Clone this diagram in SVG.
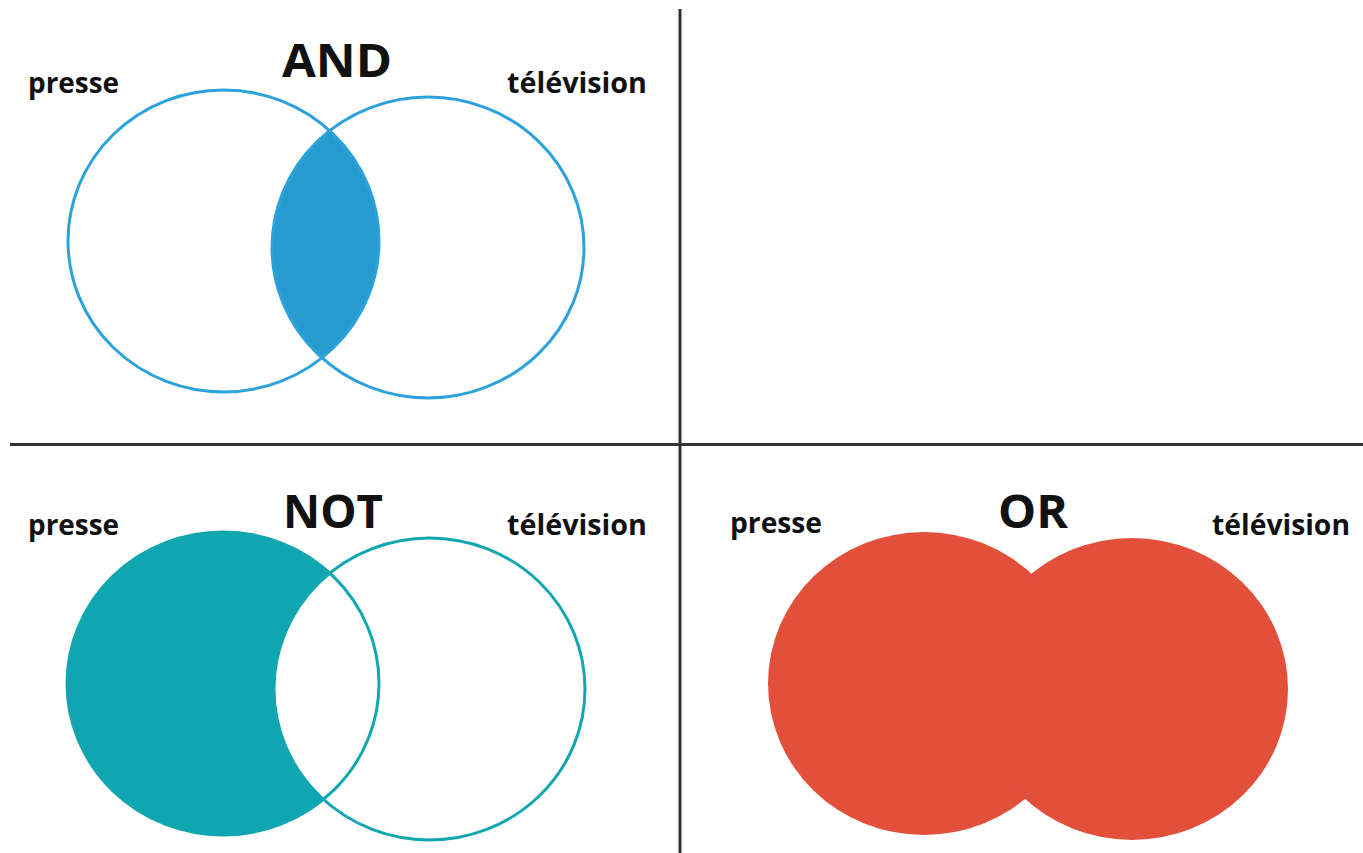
<svg xmlns="http://www.w3.org/2000/svg" width="1363" height="853" viewBox="0 0 1363 853">
<style>
.lbl{font-family:"Open Sans","Liberation Sans",sans-serif;font-weight:700;font-size:28px;fill:#111}
.ttl{font-family:"Open Sans","Liberation Sans",sans-serif;font-weight:700;font-size:46px;fill:#111}
.div{stroke:#333;stroke-width:3}
.and{fill:none;stroke:#2ba2db;stroke-width:3}
.not{fill:none;stroke:#12a6b1;stroke-width:3}
.notw{fill:#fff;stroke:#12a6b1;stroke-width:3}
</style>
<defs>
<clipPath id="andClip"><ellipse cx="223.5" cy="241" rx="155.5" ry="151"/></clipPath>
</defs>
<rect width="1363" height="853" fill="#fff"/>
<g id="dividers">
<line class="div" x1="680" y1="9" x2="680" y2="853"/>
<line class="div" x1="10" y1="444.5" x2="1363" y2="444.5"/>
</g>
<g id="and-panel">
<ellipse cx="428" cy="247.5" rx="156" ry="150.5" fill="#279bd0" clip-path="url(#andClip)"/>
<ellipse class="and" cx="223.5" cy="241" rx="155.5" ry="151"/>
<ellipse class="and" cx="428" cy="247.5" rx="156" ry="150.5"/>
<text class="ttl" x="282" y="77" textLength="110" lengthAdjust="spacingAndGlyphs">AND</text>
<text class="lbl" x="28" y="93" textLength="91" lengthAdjust="spacingAndGlyphs">presse</text>
<text class="lbl" x="507" y="93" textLength="140" lengthAdjust="spacingAndGlyphs">télévision</text>
</g>
<g id="not-panel">
<ellipse cx="223" cy="683.5" rx="156" ry="151.5" fill="#10a6b1"/>
<ellipse class="notw" cx="429.5" cy="689" rx="155.5" ry="151"/>
<ellipse class="not" cx="223" cy="683.5" rx="156" ry="151.5"/>
<text class="ttl" x="283" y="528" textLength="100" lengthAdjust="spacingAndGlyphs">NOT</text>
<text class="lbl" x="28" y="535" textLength="91" lengthAdjust="spacingAndGlyphs">presse</text>
<text class="lbl" x="507" y="535" textLength="140" lengthAdjust="spacingAndGlyphs">télévision</text>
</g>
<g id="or-panel">
<ellipse cx="924" cy="683.5" rx="156" ry="151.5" fill="#e24f3b"/>
<ellipse cx="1132" cy="689" rx="156" ry="151" fill="#e24f3b"/>
<text class="ttl" x="998" y="528" textLength="70" lengthAdjust="spacingAndGlyphs">OR</text>
<text class="lbl" x="730" y="533" textLength="92" lengthAdjust="spacingAndGlyphs">presse</text>
<text class="lbl" x="1212" y="535" textLength="138" lengthAdjust="spacingAndGlyphs">télévision</text>
</g>
</svg>
